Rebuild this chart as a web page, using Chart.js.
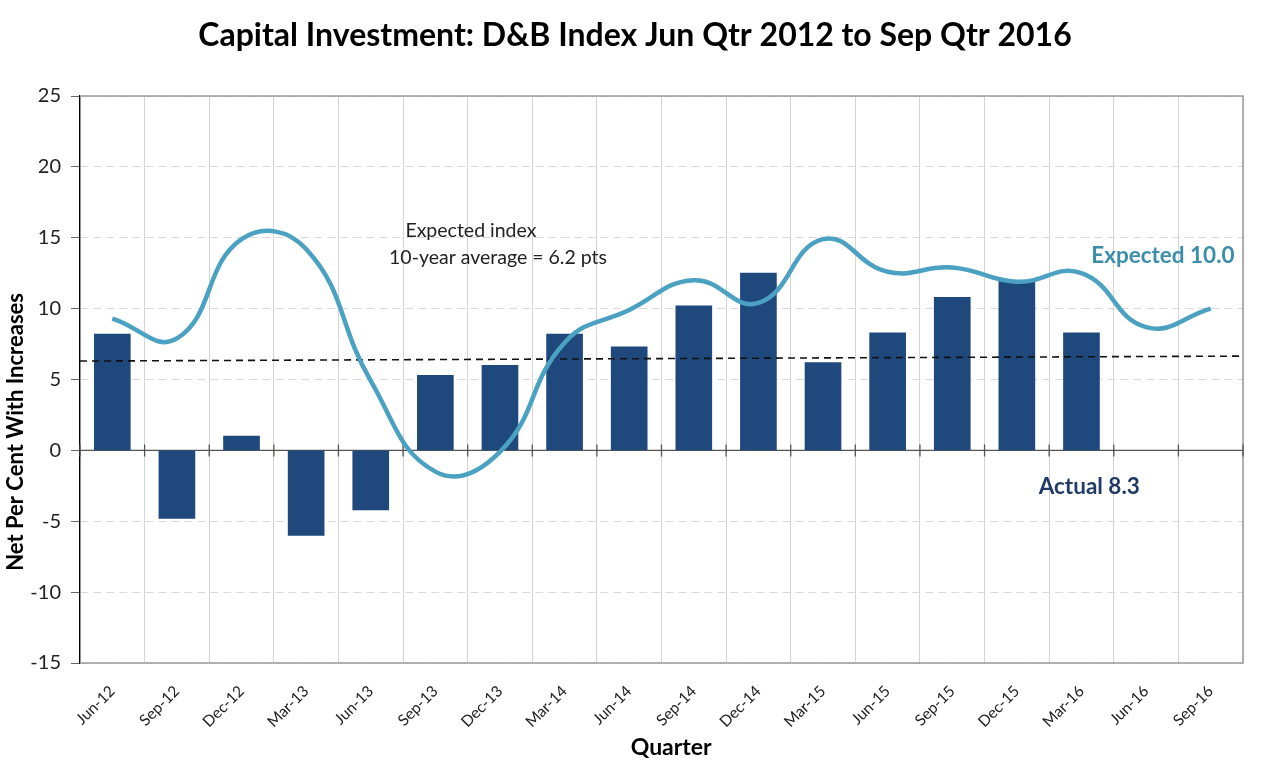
<!DOCTYPE html>
<html>
<head>
<meta charset="utf-8">
<script src="https://cdn.jsdelivr.net/npm/chart.js@4.4.1/dist/chart.umd.min.js"></script>
<style>
  html, body { margin: 0; padding: 0; background: #fff; }
  canvas { display: block; }
</style>
</head>
<body>
<canvas id="capexChart" width="1262" height="777"></canvas>
<script>
/* ── data ── */
const quarters = ['Jun-12','Sep-12','Dec-12','Mar-13','Jun-13','Sep-13','Dec-13','Mar-14','Jun-14',
                  'Sep-14','Dec-14','Mar-15','Jun-15','Sep-15','Dec-15','Mar-16','Jun-16','Sep-16'];
const actual   = [8.2,-4.8,1.0,-6.0,-4.2,5.3,6.0,8.2,7.3,10.2,12.5,6.2,8.3,10.8,12.0,8.3,null,null];
const expected = [9.3,7.9,14.9,14.2,4.9,-1.5,-0.1,7.6,9.9,12.0,10.4,14.9,12.6,12.9,11.9,12.5,8.7,10.0];
const trendEnds = [6.3, 6.65];           // 10-year average trend, start & end
const yTicks   = [25, 20, 15, 10, 5, 0, -5, -10, -15];

const BAR   = '#1f497d';
const LINE  = '#4aa1c1';
const FONT  = 'Lato, Carlito, "Open Sans", sans-serif';

Chart.defaults.font.family = FONT;
Chart.defaults.color = '#222';

/* ── frame, zero axis and text notes (Excel look) ── */
const excelFrame = {
  id: 'excelFrame',
  beforeDatasetsDraw(chart) {
    const { ctx, chartArea: a, scales: { y } } = chart;
    const y0 = y.getPixelForValue(0);
    const n = quarters.length;
    ctx.save();
    ctx.strokeStyle = '#9a9a9a';
    ctx.lineWidth = 1.5;
    ctx.beginPath();
    ctx.moveTo(a.left, a.top); ctx.lineTo(a.right, a.top); ctx.lineTo(a.right, a.bottom); ctx.lineTo(a.left, a.bottom);
    ctx.stroke();
    ctx.strokeStyle = '#555';
    ctx.lineWidth = 1.3;
    ctx.beginPath();
    ctx.moveTo(a.left, y0); ctx.lineTo(a.right, y0);
    for (let i = 0; i <= n; i++) {
      const px = a.left + (a.right - a.left) * i / n;
      ctx.moveTo(px, y0 - 6); ctx.lineTo(px, y0 + 6);
    }
    ctx.stroke();
    ctx.restore();
  },
  afterDraw(chart) {
    const { ctx, scales: { x, y } } = chart;
    const at = (i, v) => [x.getPixelForValue(0) + i * (x.getPixelForValue(1) - x.getPixelForValue(0)), y.getPixelForValue(v)];
    const note = (txt, i, v, font, color) => {
      const [px, py] = at(i, v);
      ctx.font = font; ctx.fillStyle = color;
      ctx.fillText(txt, px, py);
    };
    ctx.save();
    ctx.textAlign = 'center';
    ctx.textBaseline = 'middle';
    note('Expected index', 5.55, 15.5, '19.5px ' + FONT, '#222');
    note('10-year average = 6.2 pts', 5.97, 13.6, '19.5px ' + FONT, '#222');
    note('Expected 10.0', 16.26, 13.75, 'bold 22.5px ' + FONT, '#3a8eaa');
    note('Actual 8.3', 15.12, -2.55, 'bold 22.5px ' + FONT, '#1f3b66');
    // x axis title
    ctx.font = 'bold 23px ' + FONT;
    ctx.fillStyle = '#000';
    ctx.fillText('Quarter', at(8.65, 0)[0], 748);
    // y axis title, sits a little below the plot centre as in the source
    ctx.translate(16, y.getPixelForValue(1.3));
    ctx.rotate(-Math.PI / 2);
    ctx.font = 'bold 22px ' + FONT;
    ctx.fillText('Net Per Cent With Increases', 0, 0);
    ctx.restore();
  }
};

new Chart(document.getElementById('capexChart'), {
  type: 'bar',
  data: {
    labels: quarters,
    datasets: [
      {
        type: 'line',
        label: 'Expected',
        data: expected,
        borderColor: LINE,
        borderWidth: 4.5,
        pointRadius: 0,
        tension: 0.45,
        fill: false,
        order: 0,
      },
      {
        type: 'line',
        label: 'Trend',
        xAxisID: 'xTrend',
        data: [{ x: -0.5, y: trendEnds[0] }, { x: quarters.length - 0.5, y: trendEnds[1] }],
        borderColor: '#111',
        borderWidth: 1.6,
        borderDash: [7, 5],
        pointRadius: 0,
        fill: false,
        order: 1,
      },
      {
        label: 'Actual',
        data: actual,
        backgroundColor: BAR,
        barThickness: 36,
        grouped: false,
        order: 2,
      }
    ]
  },
  options: {
    responsive: false,
    animation: false,
    devicePixelRatio: 1,
    layout: { padding: { top: 0, left: 8, right: 0, bottom: 10 } },
    plugins: {
      legend: { display: false },
      tooltip: { enabled: false },
      title: {
        display: true,
        text: 'Capital Investment: D&B Index Jun Qtr 2012 to Sep Qtr 2016',
        color: '#000',
        font: { size: 32, weight: 'bold', lineHeight: 1.2 },
        padding: { top: 16, bottom: 41.6 },
      }
    },
    scales: {
      x: {
        offset: true,
        grid: { offset: true, color: '#d4d4d4', drawTicks: false },
        border: { display: false },
        ticks: { color: '#222', font: { size: 15.5 }, minRotation: 45, maxRotation: 45, padding: 19, labelOffset: 0 },
        afterFit: s => { s.height = 104; },
      },
      xTrend: {
        type: 'linear',
        display: false,
        offset: false,
        grid: { offset: false },
        min: -0.5,
        max: quarters.length - 0.5,
      },
      y: {
        min: -15,
        max: 25,
        afterBuildTicks: s => { s.ticks = yTicks.map(v => ({ value: v })); },
        grid: { color: '#d9d9d9', tickColor: '#666', tickLength: 9, tickBorderDash: [] },
        border: { display: true, color: '#000', width: 1.3, dash: [8, 5] },
        ticks: { color: '#222', font: { size: 20 }, padding: 10 },
        afterFit: s => { s.width = 72; },
      },
      ySpace: {
        position: 'right',
        min: -15,
        max: 25,
        grid: { drawOnChartArea: false, drawTicks: false },
        border: { display: false },
        ticks: { display: false },
        afterFit: s => { s.width = 19; },
      }
    }
  },
  plugins: [excelFrame]
});
</script>
</body>
</html>
